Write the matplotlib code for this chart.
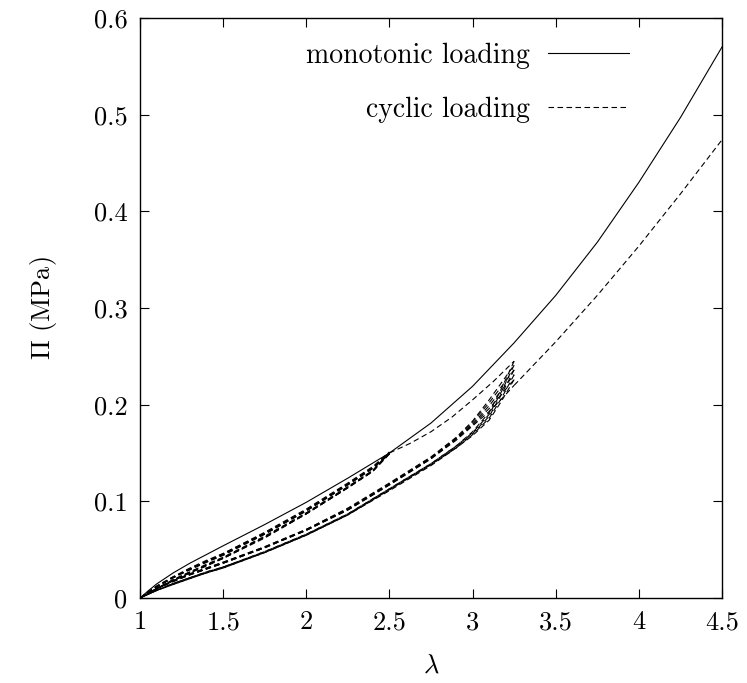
import matplotlib
matplotlib.use('Agg')
import matplotlib.pyplot as plt

plt.rcParams['font.family'] = 'serif'
plt.rcParams['font.serif'] = ['cmr10']
plt.rcParams['mathtext.fontset'] = 'cm'
plt.rcParams['axes.formatter.use_mathtext'] = True

# monotonic loading
lam_mono = [1.0, 1.05, 1.1, 1.2, 1.3, 1.4, 1.5, 1.75, 2.0, 2.25, 2.5, 2.75, 3.0, 3.25,
            3.5, 3.75, 4.0, 4.25, 4.5]
pi_mono = [0.0, 0.0075, 0.0145, 0.026, 0.036, 0.045, 0.054, 0.076, 0.099, 0.124, 0.150,
           0.181, 0.219, 0.264, 0.313, 0.368, 0.430, 0.497, 0.570]

# cycles up to lambda = 2.5
lam_a = [1.0, 1.05, 1.1, 1.2, 1.3, 1.4, 1.5, 1.75, 2.0, 2.25, 2.4, 2.5]
a_load = [
    [0.0, 0.0065, 0.0125, 0.022, 0.031, 0.039, 0.046, 0.068, 0.092, 0.119, 0.136, 0.151],
    [0.0, 0.0062, 0.0120, 0.022, 0.030, 0.038, 0.046, 0.067, 0.091, 0.118, 0.135, 0.150],
    [0.0, 0.0060, 0.0118, 0.021, 0.030, 0.038, 0.045, 0.067, 0.091, 0.118, 0.135, 0.150],
    [0.0, 0.0058, 0.0115, 0.021, 0.030, 0.037, 0.045, 0.066, 0.090, 0.117, 0.134, 0.149],
    [0.0, 0.0056, 0.0112, 0.021, 0.029, 0.037, 0.044, 0.066, 0.090, 0.117, 0.134, 0.149],
]
a_unload = [
    [0.0, 0.0050, 0.0100, 0.019, 0.027, 0.035, 0.042, 0.064, 0.088, 0.115, 0.132, 0.151],
    [0.0, 0.0048, 0.0098, 0.019, 0.027, 0.034, 0.042, 0.063, 0.088, 0.115, 0.132, 0.150],
    [0.0, 0.0047, 0.0096, 0.018, 0.026, 0.034, 0.041, 0.063, 0.087, 0.114, 0.131, 0.150],
    [0.0, 0.0046, 0.0094, 0.018, 0.026, 0.034, 0.041, 0.063, 0.087, 0.114, 0.131, 0.149],
    [0.0, 0.0045, 0.0092, 0.018, 0.026, 0.033, 0.041, 0.062, 0.087, 0.114, 0.131, 0.149],
]

# first loading beyond 2.5
lam_v = [2.5, 2.625, 2.75, 2.875, 3.0, 3.125, 3.25]
pi_v = [0.150, 0.160, 0.172, 0.187, 0.205, 0.224, 0.245]

# cycles up to lambda = 3.25
lam_b = [1.0, 1.05, 1.1, 1.2, 1.3, 1.4, 1.5, 1.75, 2.0, 2.25, 2.5, 2.75, 2.9, 3.0,
         3.1, 3.175, 3.25]
b_unload = [
    [0.0, 0.0040, 0.0080, 0.015, 0.021, 0.027, 0.032, 0.048, 0.066, 0.087, 0.113, 0.139, 0.157, 0.172, 0.192, 0.217, 0.245],
    [0.0, 0.0040, 0.0080, 0.015, 0.021, 0.027, 0.032, 0.048, 0.066, 0.087, 0.113, 0.139, 0.157, 0.171, 0.190, 0.214, 0.241],
    [0.0, 0.0040, 0.0078, 0.015, 0.021, 0.026, 0.032, 0.047, 0.065, 0.086, 0.112, 0.138, 0.156, 0.170, 0.188, 0.211, 0.236],
    [0.0, 0.0039, 0.0078, 0.014, 0.020, 0.026, 0.031, 0.047, 0.065, 0.086, 0.112, 0.138, 0.155, 0.169, 0.186, 0.207, 0.231],
    [0.0, 0.0039, 0.0077, 0.014, 0.020, 0.026, 0.031, 0.047, 0.065, 0.086, 0.111, 0.137, 0.155, 0.168, 0.184, 0.204, 0.226],
]
b_load = [
    [0.0, 0.0055, 0.0100, 0.018, 0.025, 0.031, 0.037, 0.053, 0.071, 0.093, 0.119, 0.146, 0.166, 0.183, 0.205, 0.223, 0.241],
    [0.0, 0.0054, 0.0098, 0.018, 0.025, 0.031, 0.037, 0.053, 0.071, 0.092, 0.118, 0.145, 0.165, 0.182, 0.202, 0.219, 0.236],
    [0.0, 0.0053, 0.0097, 0.018, 0.024, 0.030, 0.036, 0.052, 0.070, 0.092, 0.118, 0.145, 0.165, 0.180, 0.199, 0.215, 0.231],
    [0.0, 0.0052, 0.0096, 0.017, 0.024, 0.030, 0.036, 0.052, 0.070, 0.091, 0.117, 0.144, 0.164, 0.179, 0.196, 0.211, 0.226],
    [0.0, 0.0051, 0.0095, 0.017, 0.024, 0.030, 0.036, 0.052, 0.070, 0.091, 0.117, 0.144, 0.163, 0.178, 0.193, 0.206, 0.220],
]

# final loading to 4.5
lam_f = [3.25, 3.5, 3.75, 4.0, 4.25, 4.5]
pi_f = [0.220, 0.265, 0.313, 0.364, 0.418, 0.474]

xticks = [1, 1.5, 2, 2.5, 3, 3.5, 4, 4.5]
xtick_labels = ['1', '1.5', '2', '2.5', '3', '3.5', '4', '4.5']
yticks = [0, 0.1, 0.2, 0.3, 0.4, 0.5, 0.6]
ytick_labels = ['0', '0.1', '0.2', '0.3', '0.4', '0.5', '0.6']

fs = 20
lw = 0.8
dash = (5, 3.1)

fig = plt.figure(figsize=(7.47, 6.83), dpi=100)
ax = fig.add_axes([140 / 747, 1 - 598 / 683, 582 / 747, 580 / 683])

ax.plot(lam_mono, pi_mono, color='black', lw=lw, label='monotonic loading')

first = True
for ld, ul in zip(a_load, a_unload):
    ax.plot(lam_a, ld, color='black', lw=lw, dashes=dash,
            label='cyclic loading' if first else None)
    ax.plot(lam_a[::-1], ul[::-1], color='black', lw=lw, dashes=dash)
    first = False
ax.plot(lam_v, pi_v, color='black', lw=lw, dashes=dash)
for ld, ul in zip(b_load, b_unload):
    ax.plot(lam_b[::-1], ul[::-1], color='black', lw=lw, dashes=dash)
    ax.plot(lam_b, ld, color='black', lw=lw, dashes=dash)
ax.plot(lam_f, pi_f, color='black', lw=lw, dashes=dash)

ax.set_xlim(1, 4.5)
ax.set_ylim(0, 0.6)
ax.set_xticks(xticks)
ax.set_xticklabels(xtick_labels)
ax.set_yticks(yticks)
ax.set_yticklabels(ytick_labels)
ax.tick_params(direction='in', top=True, right=True, length=6.5, width=0.8,
               labelsize=19, pad=9)
for s in ax.spines.values():
    s.set_linewidth(1.0)

ax.set_xlabel(r'$\lambda$', fontsize=19, labelpad=14)
ax.set_ylabel(r'$\Pi$ (MPa)', fontsize=19, labelpad=25)

leg = ax.legend(loc='upper right', bbox_to_anchor=(0.868, 0.987), frameon=False,
                markerfirst=False, fontsize=fs, handlelength=2.9,
                handletextpad=0.65, labelspacing=1.0, borderaxespad=0.0,
                borderpad=0.6)

plt.savefig('out.png', dpi=100)
